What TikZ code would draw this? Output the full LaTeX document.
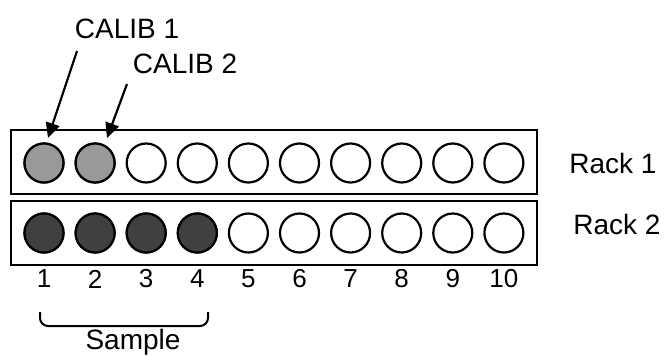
\documentclass[tikz,border=0pt]{standalone}
\usepackage{fontspec}
\setmainfont{Liberation Sans}
\usetikzlibrary{arrows.meta}
\definecolor{calibgray}{HTML}{999999}
\definecolor{samplegray}{HTML}{404040}
\begin{document}
\begin{tikzpicture}[x=1pt,y=-1pt,
  rackbox/.style={draw,line width=2.2pt,inner sep=0pt},
  vial/.style={draw,circle,line width=2.2pt,minimum size=39pt,inner sep=0pt,fill=white},
  lbl/.style={font=\fontsize{28}{28}\selectfont,inner sep=0pt},
  num/.style={font=\fontsize{26}{26}\selectfont,inner sep=0pt},
  arr/.style={line width=2.2pt,-{Triangle[length=15pt,width=14pt]}}]
\useasboundingbox (0,0) rectangle (665,356);
\node[rackbox,minimum width=526pt,minimum height=64pt] (rack1) at (274,162) {};
\node[rackbox,minimum width=526pt,minimum height=64pt] (rack2) at (274,233) {};
\foreach \i in {1,...,10}{
  \pgfmathsetmacro{\xx}{44+51.1*(\i-1)}
  \node[vial] (a\i) at (\xx,163) {};
  \node[vial] (b\i) at (\xx,233) {};
  \node[num] (n\i) at (\xx,279) {\i};
}
\foreach \i in {1,2}{\node[vial,fill=calibgray] at (a\i) {};}
\foreach \i in {1,...,4}{\node[vial,fill=samplegray] at (b\i) {};}
\node[lbl] (rl1) at (613,163) {Rack 1};
\node[lbl] (rl2) at (617,224) {Rack 2};
\node[lbl] (cal1) at (127,29) {CALIB 1};
\node[lbl] (cal2) at (185,64) {CALIB 2};
\coordinate (s1) at (77,51);
\coordinate (t1) at (48,138);
\coordinate (s2) at (127,84);
\coordinate (t2) at (107,138);
\draw[arr] (s1) -- (t1);
\draw[arr] (s2) -- (t2);
\draw[line width=2pt,rounded corners=8pt] (40,312) -- (40,326) -- (208,326) -- (208,312);
\node[lbl] (samp) at (133,342) {Sample};
\end{tikzpicture}
\end{document}
